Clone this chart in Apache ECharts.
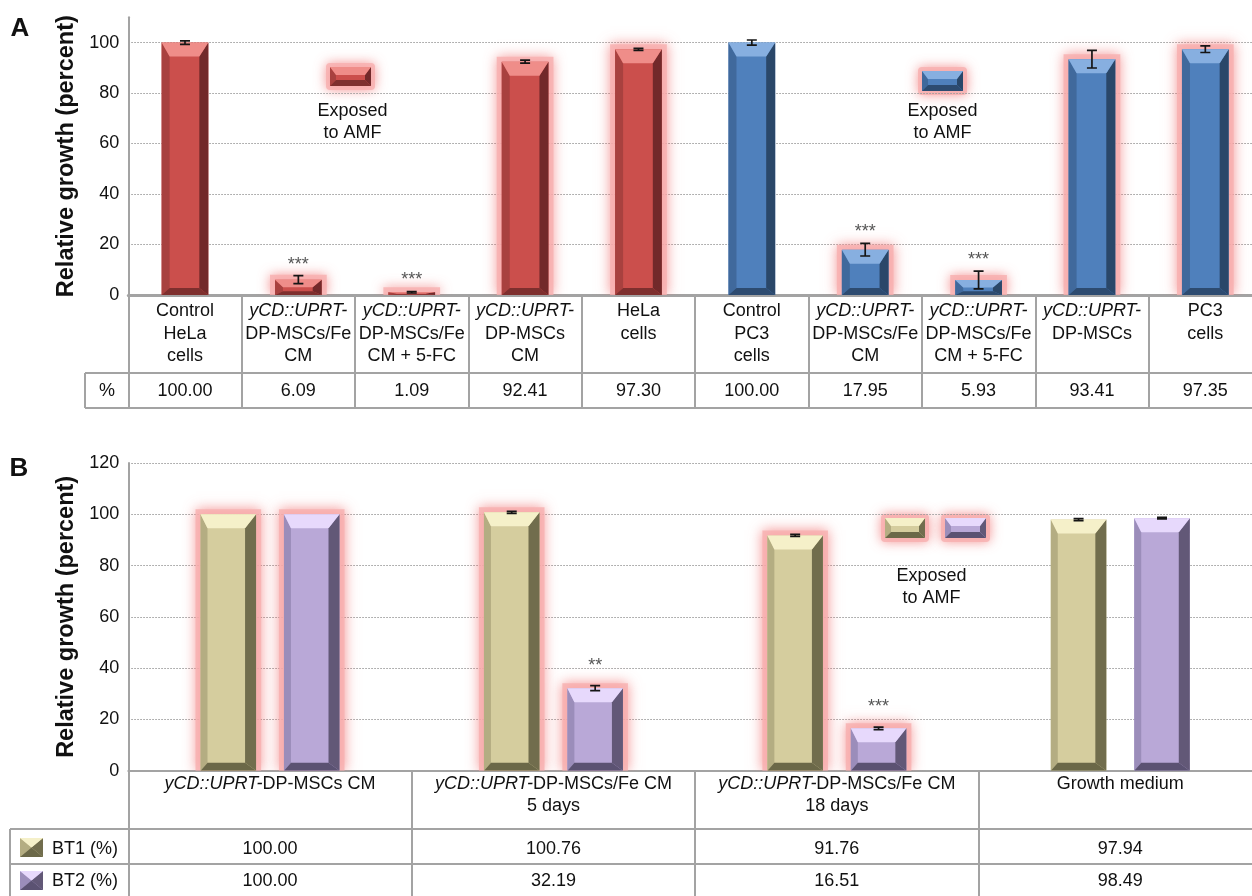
<!DOCTYPE html>
<html>
<head>
<meta charset="utf-8">
<script src="https://cdn.jsdelivr.net/npm/echarts@6.0.0/dist/echarts.min.js"></script>
<style>
html,body{margin:0;padding:0;background:#ffffff;}
#chart{width:1252px;height:896px;}
</style>
</head>
<body>
<div id="chart"></div>
<script>
// ------------------------- DATA -------------------------
// Panel A
const categoriesA = [
  'Control\nHeLa\ncells',
  'yCD::UPRT-\nDP-MSCs/Fe\nCM',
  'yCD::UPRT-\nDP-MSCs/Fe\nCM + 5-FC',
  'yCD::UPRT-\nDP-MSCs\nCM',
  'HeLa\ncells',
  'Control\nPC3\ncells',
  'yCD::UPRT-\nDP-MSCs/Fe\nCM',
  'yCD::UPRT-\nDP-MSCs/Fe\nCM + 5-FC',
  'yCD::UPRT-\nDP-MSCs',
  'PC3\ncells'
];
const valuesA = [100.00, 6.09, 1.09, 92.41, 97.30, 100.00, 17.95, 5.93, 93.41, 97.35];
const errorsA = [0.7, 1.6, 0.3, 0.6, 0.4, 1.0, 2.5, 3.5, 3.5, 1.3];
const cellLineA = ['HeLa', 'HeLa', 'HeLa', 'HeLa', 'HeLa', 'PC3', 'PC3', 'PC3', 'PC3', 'PC3'];
const exposedA = [0, 1, 1, 1, 1, 0, 1, 1, 1, 1];
const significanceA = ['', '***', '***', '', '', '', '***', '***', '', ''];
const rowLabelA = '%';
const yTicksA = [0, 20, 40, 60, 80, 100];

// Panel B
const categoriesB = [
  'yCD::UPRT-DP-MSCs CM',
  'yCD::UPRT-DP-MSCs/Fe CM\n5 days',
  'yCD::UPRT-DP-MSCs/Fe CM\n18 days',
  'Growth medium'
];
const seriesNamesB = ['BT1 (%)', 'BT2 (%)'];
const valuesBT1 = [100.00, 100.76, 91.76, 97.94];
const valuesBT2 = [100.00, 32.19, 16.51, 98.49];
const errorsBT1 = [0, 0.4, 0.4, 0.4];
const errorsBT2 = [0, 1.0, 0.5, 0.3];
const significanceBT1 = ['', '', '', ''];
const significanceBT2 = ['', '**', '***', ''];
const exposedB = [1, 1, 1, 0];
const yTicksB = [0, 20, 40, 60, 80, 100, 120];

const annotationText = 'Exposed\nto AMF';

// ------------------------- STYLE -------------------------
const FONT = '"Liberation Sans", Arial, Helvetica, sans-serif';
const TXT = '#111111';
const LINE = '#a3a3a3';
const PAL = {
  HeLa: {face:'#cb4f4c', left:'#a8413f', right:'#72292a', top:'#ef8d89', bottom:'#7e2f2e'},
  PC3:  {face:'#4f80bc', left:'#40699c', right:'#2a4769', top:'#87afe0', bottom:'#2d4b70'},
  BT1:  {face:'#d5cd9e', left:'#b4ad82', right:'#716d4d', top:'#f5f0c9', bottom:'#6b6848'},
  BT2:  {face:'#b9a8d7', left:'#9b8dba', right:'#625877', top:'#e7d9fc', bottom:'#5b5272'}
};
const GLOW = {fill:'rgba(248,175,175,0.8)', shadowBlur:12, shadowColor:'rgba(240,110,110,0.9)'};

// grid geometry (pixels)
const GA = {left:128.3, top:17.3, right:-10, bottom:896-295};
const GB = {left:128.3, top:463, right:-10, bottom:896-770.7};
const rightEdge = 1252 - GA.right;

// ------------------------- HELPERS -------------------------
function bevel(x0, y0, w, h, pal, bl, br, tb, bb) {
  const x1 = x0 + w, y1 = y0 + h;
  return [
    {type:'rect', shape:{x:x0, y:y0, width:w, height:h}, style:{fill:pal.face}},
    {type:'polygon', shape:{points:[[x0,y0],[x0+bl,y0+tb],[x0+bl,y1-bb],[x0,y1]]}, style:{fill:pal.left}},
    {type:'polygon', shape:{points:[[x1,y0],[x1-br,y0+tb],[x1-br,y1-bb],[x1,y1]]}, style:{fill:pal.right}},
    {type:'polygon', shape:{points:[[x0,y0],[x1,y0],[x1-br,y0+tb],[x0+bl,y0+tb]]}, style:{fill:pal.top}},
    {type:'polygon', shape:{points:[[x0,y1],[x1,y1],[x1-br,y1-bb],[x0+bl,y1-bb]]}, style:{fill:pal.bottom}}
  ];
}
function glowRect(x0, y0, w, h, pad) {
  return {type:'rect', shape:{x:x0-pad, y:y0-pad, width:w+2*pad, height:h+pad}, style:Object.assign({}, GLOW)};
}
function glowBox(x0, y0, w, h) {
  return {type:'rect', shape:{x:x0-4, y:y0-4, width:w+8, height:h+8, r:4}, style:Object.assign({}, GLOW)};
}
function errorBar(cx, yt, yb) {
  const c = 5, st = {stroke:'#151515', lineWidth:1.7};
  return [
    {type:'line', shape:{x1:cx, y1:yt, x2:cx, y2:yb}, style:st},
    {type:'line', shape:{x1:cx-c, y1:yt, x2:cx+c, y2:yt}, style:st},
    {type:'line', shape:{x1:cx-c, y1:yb, x2:cx+c, y2:yb}, style:st}
  ];
}
function sigText(cx, y, t) {
  return {type:'text', x:cx, y:y, style:{text:t, fill:'#555555', font:'18px ' + FONT, align:'center', verticalAlign:'middle'}};
}
function italicize(v) {
  return v.split('\n').map(function (l) {
    return l.indexOf('yCD::UPRT-') === 0 ? '{i|yCD::UPRT-}' + l.slice(10) : l;
  }).join('\n');
}

// ------------------------- RENDERERS -------------------------
function renderA(params, api) {
  const i = api.value(0), v = api.value(1), e = api.value(2);
  const band = api.size([1, 0])[0];
  const w = band * 0.412;
  const top = api.coord([i, v]);
  const base = api.coord([i, 0]);
  const x0 = top[0] - w / 2, y0 = top[1], h = base[1] - top[1];
  const children = [];
  if (exposedA[i]) children.push(glowRect(x0, y0, w, h, 5));
  children.push.apply(children, bevel(x0, y0, w, h, PAL[cellLineA[i]], 8, 9, Math.min(14, h * 0.5), Math.min(7, h * 0.25)));
  const et = api.coord([i, v + e])[1], eb = api.coord([i, Math.max(0, v - e)])[1];
  if (e > 0) children.push.apply(children, errorBar(top[0], et, eb));
  if (significanceA[i]) children.push(sigText(top[0], et - 11, significanceA[i]));
  return {type:'group', children:children};
}
function makeRenderB(errs, sigs, pal, sign) {
  return function (params, api) {
    const i = api.value(0), v = api.value(1);
    const e = errs[i];
    const band = api.size([1, 0])[0];
    const w = band * 0.196;
    const off = sign * band * 0.1472;
    const top = api.coord([i, v]);
    const base = api.coord([i, 0]);
    const cx = top[0] + off;
    const x0 = cx - w / 2, y0 = top[1], h = base[1] - top[1];
    const children = [];
    if (exposedB[i]) children.push(glowRect(x0, y0, w, h, 5));
    children.push.apply(children, bevel(x0, y0, w, h, pal, 7, 11, Math.min(14, h * 0.5), Math.min(8, h * 0.25)));
    if (e > 0) {
      const et = api.coord([i, v + e])[1], eb = api.coord([i, v - e])[1];
      children.push.apply(children, errorBar(cx, et, eb));
    }
    if (sigs[i]) children.push(sigText(cx, api.coord([i, v + e])[1] - 20, sigs[i]));
    return {type:'group', children:children};
  };
}

// ------------------------- GRAPHIC (annotations & table frame) -------------------------
const gfx = [];
function addLine(x1, y1, x2, y2) {
  gfx.push({type:'line', shape:{x1:x1, y1:y1, x2:x2, y2:y2}, style:{stroke:LINE, lineWidth:2}, z:50});
}
function addText(x, y, t, font, align) {
  gfx.push({type:'text', x:x, y:y, style:{text:t, font:font, fill:TXT, align:align || 'center', verticalAlign:'middle', lineHeight:22}, z:60});
}
function addBox(x, y, w, h, pal, glow) {
  const ch = [];
  if (glow) ch.push(glowBox(x, y, w, h));
  ch.push.apply(ch, bevel(x, y, w, h, pal, 6, 6, 8, 6));
  gfx.push({type:'group', children:ch, z:40});
}
function addSwatch(x, y, w, h, pal) {
  gfx.push({type:'group', children:bevel(x, y, w, h, pal, w / 2, w / 2, h / 2, h / 2), z:60});
}

// panel letters
addText(20, 29, 'A', 'bold 26px ' + FONT);
addText(19, 469, 'B', 'bold 26px ' + FONT);

// panel A annotation
addBox(330, 67, 41, 19, PAL.HeLa, true);
addText(352.5, 122, annotationText, '18px ' + FONT);
addBox(922, 71, 41, 20, PAL.PC3, true);
addText(942.5, 122, annotationText, '18px ' + FONT);

// panel B annotation
addBox(885, 518, 40, 20, PAL.BT1, true);
addBox(945, 518, 41, 20, PAL.BT2, true);
addText(931.5, 587, annotationText, '18px ' + FONT);

// panel A table frame
addLine(85, 373, rightEdge, 373);
addLine(85, 408, rightEdge, 408);
addLine(85, 373, 85, 408);
addText(107, 391.5, rowLabelA, '18px ' + FONT);

// panel B table frame
addLine(10, 829, rightEdge, 829);
addLine(10, 864, rightEdge, 864);
addLine(10, 829, 10, 900);
addSwatch(20, 838, 23, 19, PAL.BT1);
addSwatch(20, 871, 23, 19, PAL.BT2);
addText(52, 849, seriesNamesB[0], '18px ' + FONT, 'left');
addText(52, 881, seriesNamesB[1], '18px ' + FONT, 'left');

// ------------------------- OPTION -------------------------
const labelBase = {color:TXT, fontSize:18, fontFamily:FONT, lineHeight:22.5};
const richI = {i:{fontStyle:'italic', color:TXT, fontSize:18, fontFamily:FONT, lineHeight:22.5}};

function yAxisCfg(gridIndex, max, gap) {
  return {
    type:'value', gridIndex:gridIndex, min:0, max:max, interval:20,
    name:'Relative growth (percent)', nameLocation:'middle', nameGap:gap, nameRotate:90,
    nameTextStyle:{fontSize:23.5, fontWeight:'bold', fontFamily:FONT, color:TXT},
    axisLine:{show:true, lineStyle:{color:LINE, width:2}},
    axisTick:{show:false},
    axisLabel:{margin:9, color:TXT, fontSize:18, fontFamily:FONT, showMaxLabel: max % 20 === 0, formatter:function (v) { return String(v); }},
    splitLine:{show:true, showMaxLine: max % 20 === 0, lineStyle:{color:'#9a9a9a', width:1, type:[1.5, 1.5]}}
  };
}

const option = {
  backgroundColor:'#ffffff',
  animation:false,
  grid:[
    Object.assign({outerBoundsMode:'none', containLabel:false}, GA),
    Object.assign({outerBoundsMode:'none', containLabel:false}, GB)
  ],
  xAxis:[
    // panel A header row
    {type:'category', gridIndex:0, data:categoriesA, position:'bottom',
      axisLine:{show:true, onZero:false, lineStyle:{color:LINE, width:3}},
      axisTick:{show:true, length:113, lineStyle:{color:LINE, width:2}},
      axisLabel:Object.assign({interval:0, margin:5, formatter:italicize, rich:richI}, labelBase),
      splitLine:{show:false}},
    // panel A value row
    {type:'category', gridIndex:0, data:categoriesA, position:'bottom',
      axisLine:{show:false}, axisTick:{show:false}, splitLine:{show:false},
      axisLabel:{interval:0, margin:96.5, verticalAlign:'middle', color:TXT, fontSize:18, fontFamily:FONT,
        formatter:function (v, i) { return valuesA[i].toFixed(2); }}},
    // panel B header row
    {type:'category', gridIndex:1, data:categoriesB, position:'bottom',
      axisLine:{show:true, onZero:false, lineStyle:{color:LINE, width:2}},
      axisTick:{show:true, length:135, lineStyle:{color:LINE, width:2}},
      axisLabel:Object.assign({interval:0, margin:2, formatter:italicize, rich:richI}, labelBase, {lineHeight:22}),
      splitLine:{show:false}},
    // panel B BT1 row
    {type:'category', gridIndex:1, data:categoriesB, position:'bottom',
      axisLine:{show:false}, axisTick:{show:false}, splitLine:{show:false},
      axisLabel:{interval:0, margin:78.5, verticalAlign:'middle', color:TXT, fontSize:18, fontFamily:FONT,
        formatter:function (v, i) { return valuesBT1[i].toFixed(2); }}},
    // panel B BT2 row
    {type:'category', gridIndex:1, data:categoriesB, position:'bottom',
      axisLine:{show:false}, axisTick:{show:false}, splitLine:{show:false},
      axisLabel:{interval:0, margin:110.5, verticalAlign:'middle', color:TXT, fontSize:18, fontFamily:FONT,
        formatter:function (v, i) { return valuesBT2[i].toFixed(2); }}}
  ],
  yAxis:[
    yAxisCfg(0, 110, 47),
    yAxisCfg(1, 120, 47)
  ],
  series:[
    {type:'custom', name:'A', xAxisIndex:0, yAxisIndex:0, clip:true, z:5,
      dimensions:['x', 'y', 'err'], encode:{x:0, y:1},
      data:valuesA.map(function (v, i) { return [i, v, errorsA[i]]; }),
      renderItem:renderA},
    {type:'custom', name:seriesNamesB[0], xAxisIndex:2, yAxisIndex:1, clip:true, z:5,
      encode:{x:0, y:1},
      data:valuesBT1.map(function (v, i) { return [i, v]; }),
      renderItem:makeRenderB(errorsBT1, significanceBT1, PAL.BT1, -1)},
    {type:'custom', name:seriesNamesB[1], xAxisIndex:2, yAxisIndex:1, clip:true, z:5,
      encode:{x:0, y:1},
      data:valuesBT2.map(function (v, i) { return [i, v]; }),
      renderItem:makeRenderB(errorsBT2, significanceBT2, PAL.BT2, 1)}
  ],
  graphic:{elements:gfx}
};

const chart = echarts.init(document.getElementById('chart'), null, {renderer:'canvas'});
chart.setOption(option);
</script>
</body>
</html>
